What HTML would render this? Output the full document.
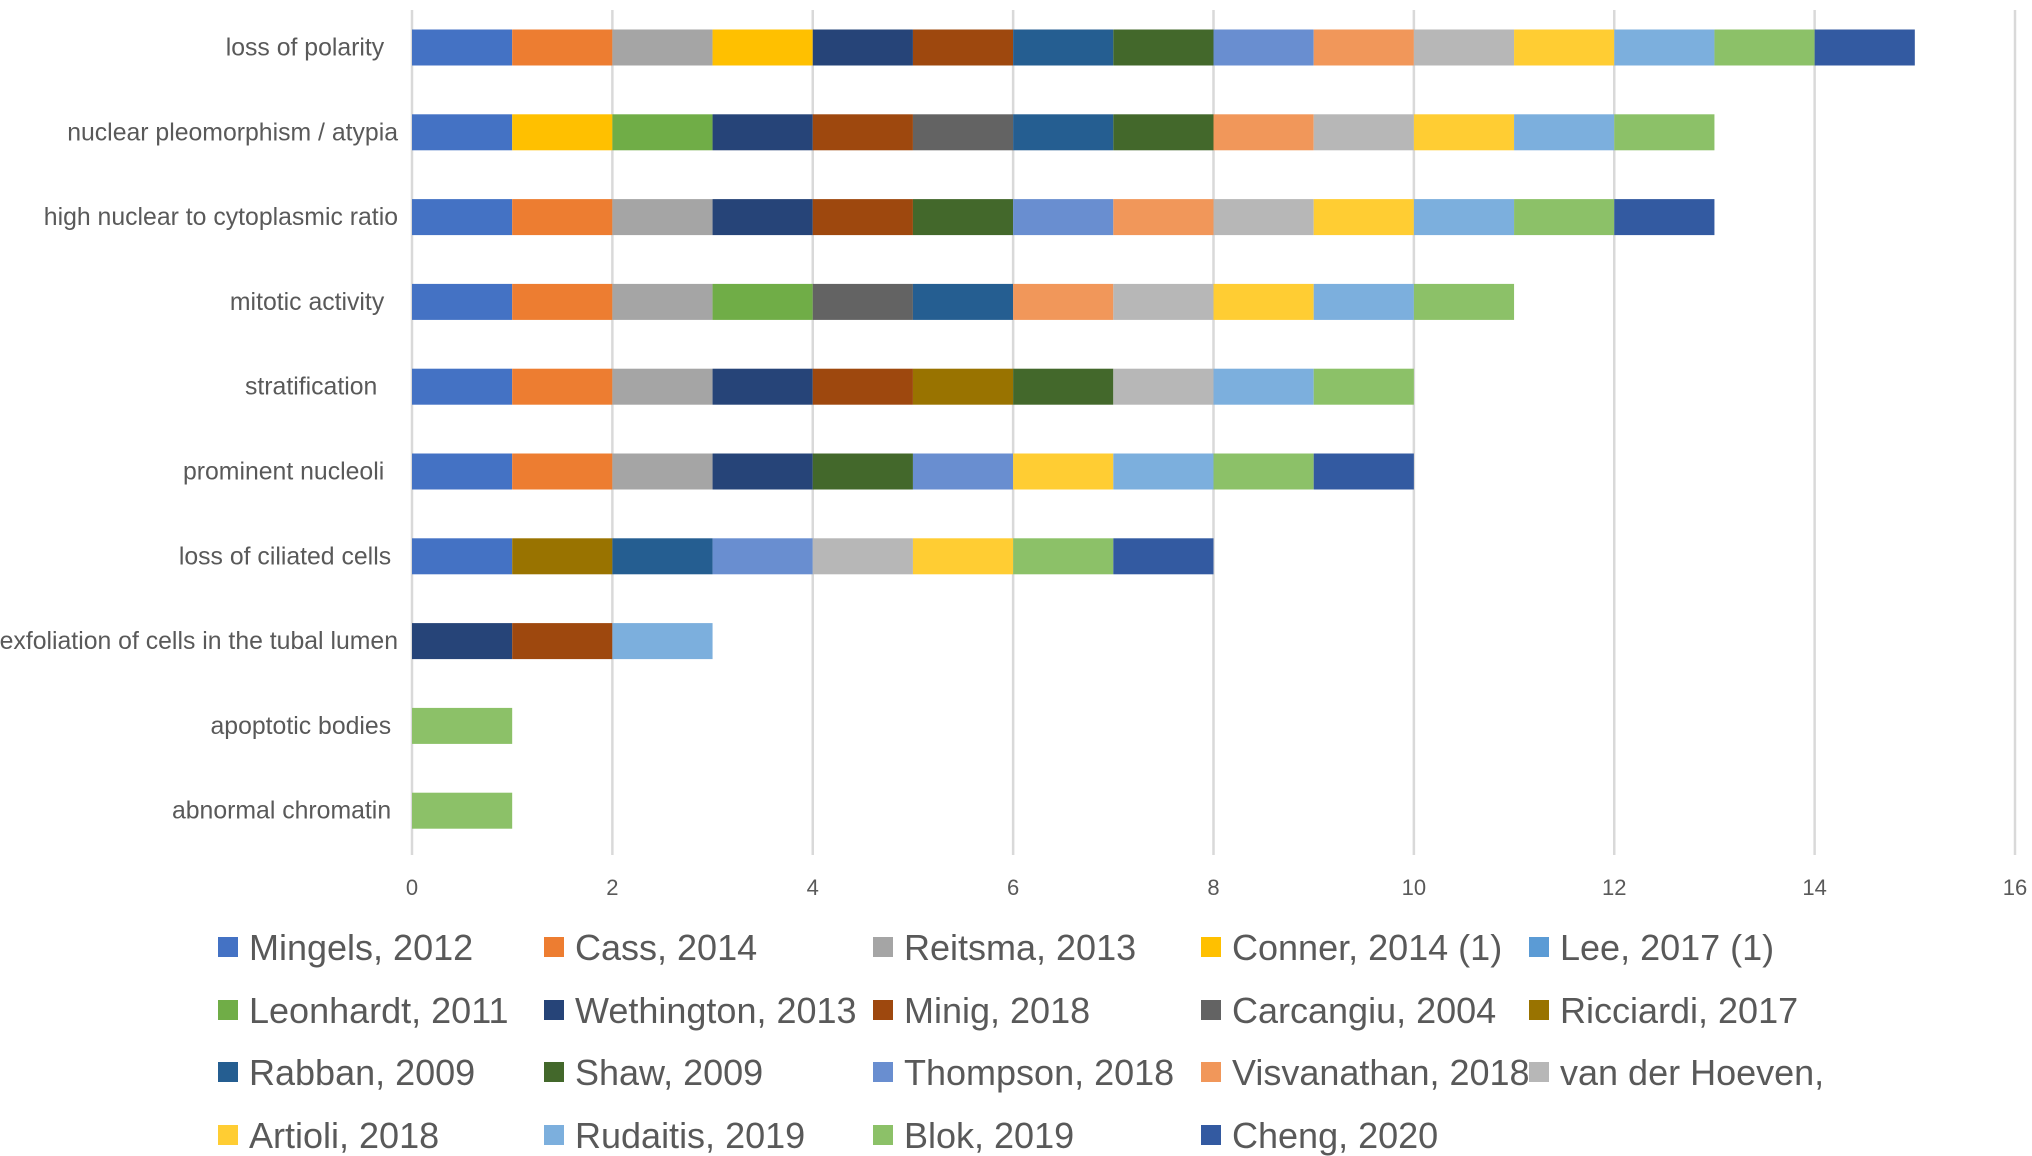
<!DOCTYPE html>
<html><head><meta charset="utf-8"><style>
html,body{margin:0;padding:0;background:#fff;}
svg{display:block;font-family:"Liberation Sans",sans-serif;}
</style></head><body>
<svg id="chart" width="2032" height="1156"></svg>
<script>
const categories=["loss of polarity\u00a0\u00a0","nuclear pleomorphism / atypia","high nuclear to cytoplasmic ratio","mitotic activity\u00a0\u00a0","stratification\u00a0\u00a0\u00a0","prominent nucleoli\u00a0\u00a0","loss of ciliated cells\u00a0","exfoliation of cells in the tubal lumen","apoptotic bodies\u00a0","abnormal chromatin\u00a0"];
const seriesNames=["Mingels, 2012","Cass, 2014","Reitsma, 2013","Conner, 2014 (1)","Lee, 2017 (1)","Leonhardt, 2011","Wethington, 2013","Minig, 2018","Carcangiu, 2004","Ricciardi, 2017","Rabban, 2009","Shaw, 2009","Thompson, 2018","Visvanathan, 2018","van der Hoeven,","Artioli, 2018","Rudaitis, 2019","Blok, 2019","Cheng, 2020"];
const seriesColors=["#4472C4","#ED7D31","#A5A5A5","#FFC000","#5B9BD5","#70AD47","#264478","#9E480E","#636363","#997300","#255E91","#43682B","#698ED0","#F1975A","#B7B7B7","#FFCD33","#7CAFDD","#8CC168","#335AA1"];
// values per series, one per category
const mingels=[1,1,1,1,1,1,1,0,0,0];
const cass=[1,0,1,1,1,1,0,0,0,0];
const reitsma=[1,0,1,1,1,1,0,0,0,0];
const conner=[1,1,0,0,0,0,0,0,0,0];
const lee=[0,0,0,0,0,0,0,0,0,0];
const leonhardt=[0,1,0,1,0,0,0,0,0,0];
const wethington=[1,1,1,0,1,1,0,1,0,0];
const minig=[1,1,1,0,1,0,0,1,0,0];
const carcangiu=[0,1,0,1,0,0,0,0,0,0];
const ricciardi=[0,0,0,0,1,0,1,0,0,0];
const rabban=[1,1,0,1,0,0,1,0,0,0];
const shaw=[1,1,1,0,1,1,0,0,0,0];
const thompson=[1,0,1,0,0,1,1,0,0,0];
const visvanathan=[1,1,1,1,0,0,0,0,0,0];
const vdh=[1,1,1,1,1,0,1,0,0,0];
const artioli=[1,1,1,1,0,1,1,0,0,0];
const rudaitis=[1,1,1,1,1,1,0,1,0,0];
const blok=[1,1,1,1,1,1,1,0,1,1];
const cheng=[1,0,1,0,0,1,1,0,0,0];
const seriesValues=[mingels,cass,reitsma,conner,lee,leonhardt,wethington,minig,carcangiu,ricciardi,rabban,shaw,thompson,visvanathan,vdh,artioli,rudaitis,blok,cheng];
const xTicks=[0,2,4,6,8,10,12,14,16];

const svg=document.getElementById('chart');
const NS="http://www.w3.org/2000/svg";
const X0=412,X1=2015,XMAX=16,Y0=47.5,DY=84.8,BH=36;
const x=v=>X0+(X1-X0)*v/XMAX;
const y=i=>Y0+DY*i;
function mk(t,a){const e=document.createElementNS(NS,t);for(const k in a)e.setAttribute(k,a[k]);svg.appendChild(e);return e;}
xTicks.forEach(t=>{
  const g=mk('line',{x1:x(t),x2:x(t),y1:10,y2:855,stroke:'#d9d9d9','stroke-width':2.5});
  
  
  const l=mk('text',{x:x(t),y:895,'font-size':22,fill:'#595959','text-anchor':'middle'});
  l.textContent=t;
  
  
});
categories.forEach((c,i)=>{
  const l=mk('text',{x:398,y:y(i)+8,'font-size':24.8,fill:'#595959','text-anchor':'end'});
  l.textContent=c;
  
  
  let acc=0;
  seriesValues.forEach((vals,s)=>{
    const v=vals[i];if(!v)return;
    const r=mk('rect',{x:x(acc),y:y(i)-BH/2,width:x(acc+v)-x(acc),height:BH,fill:seriesColors[s]});
    
    
    acc+=v;
  });
});
const LX=[218,544,873,1201,1529],LY=[947,1010,1072,1135];
seriesNames.forEach((n,k)=>{
  const cx=LX[k%5],cy=LY[Math.floor(k/5)];
  const s=mk('rect',{x:cx,y:cy-10,width:20,height:20,fill:seriesColors[k]});
  
  
  const t=mk('text',{x:cx+31,y:cy+13,'font-size':36,fill:'#595959'});
  t.textContent=n;
  
  
});
</script>
</body></html>
